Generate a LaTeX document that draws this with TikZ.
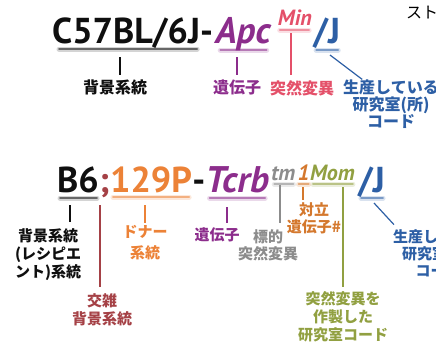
\documentclass[tikz,border=0pt]{standalone}
\usepackage{fontspec}
\setmainfont{PT Sans}
\newfontfamily\jp{Noto Sans CJK JP}
\definecolor{bg_c}{RGB}{15,15,15}
\definecolor{gene_c}{RGB}{140,45,140}
\definecolor{mut_c}{RGB}{228,80,105}
\definecolor{lab_c}{RGB}{45,95,165}
\definecolor{donor_c}{RGB}{236,130,55}
\definecolor{cross_c}{RGB}{165,65,70}
\definecolor{tm_c}{RGB}{140,140,140}
\definecolor{allele_c}{RGB}{212,120,45}
\definecolor{mom_c}{RGB}{145,160,65}
\usetikzlibrary{positioning,calc}

\begin{document}
\begin{tikzpicture}[
			x=1pt, y=-1pt,
			sym/.style = {inner sep=0, anchor=base west, font=\fontsize{36}{36}\selectfont\bfseries},
			symit/.style = {sym, font=\fontsize{37}{37}\selectfont\bfseries\itshape},
			sup/.style = {inner sep=0, anchor=base west, font=\fontsize{22}{22}\selectfont\bfseries\itshape},
			lbl/.style = {inner sep=0, anchor=north, align=center, font=\jp\fontsize{15}{18}\selectfont\bfseries},
			bar/.style = {draw=#1, line width=5pt, line cap=round, opacity=.18,
				postaction={draw=#1, line width=1.6pt, opacity=.55}},
			lk/.style = {line width=1.2pt},
			]
			\useasboundingbox (0,0) rectangle (436,343);
			\clip (0,0) rectangle (436,343);
			% first strain name
			\node[sym, text=bg_c] (strain1) at (52,43) {C57BL/6J-};
			\node[symit, text=gene_c] (gene1) at ([xshift=2]strain1.base east) {Apc};
			\node[sup, text=mut_c] (mut1) at ([shift={(7,-18)}]gene1.base east) {Min};
			\node[sym, text=lab_c] (lab1) at ([xshift=1]mut1.base east |- gene1.base) {/J};
			% shadows
			\draw[bar=bg_c] ([shift={(7,6)}]strain1.base west) -- ([shift={(-16,6)}]strain1.base east);
			\draw[bar=gene_c] ([shift={(5,7)}]gene1.base west) -- ([shift={(-4,7)}]gene1.base east);
			\draw[bar=mut_c] ([shift={(2,5)}]mut1.base west) -- ([shift={(-3,5)}]mut1.base east);
			\draw[bar=lab_c] ([shift={(3,7)}]lab1.base west) -- ([shift={(-2,7)}]lab1.base east);
			% notes
			\node[lbl, text=bg_c, font=\jp\fontsize{16}{17}\selectfont\bfseries] (bglbl1) at (115,80) {背景系統};
			\node[lbl, text=gene_c, font=\jp\fontsize{16}{17}\selectfont\bfseries] (genelbl1) at (237,80) {遺伝子};
			\node[lbl, text=mut_c, font=\jp\fontsize{16}{17}\selectfont\bfseries] (mutlbl1) at (302,80) {突然変異};
			\node[lbl, text=lab_c, font=\jp\fontsize{16}{17}\selectfont\bfseries] (lablbl1) at (391,80) {生産している\\研究室(所)\\コード};
			\node[inner sep=0, anchor=west, font=\jp\fontsize{16}{16}\selectfont] (cut) at (406,13) {スト};
			\coordinate (bgpt1) at (120,57);
			\coordinate (genept1) at (237,57);
			\coordinate (mutpt1) at (291,33);
			\coordinate (labpt1) at (330,55);
			% edges
			\draw[lk, bg_c, shorten >=5] (bgpt1) -- (bgpt1 |- bglbl1.north);
			\draw[lk, gene_c, shorten >=5] (genept1) -- (genelbl1.north);
			\draw[lk, mut_c, shorten >=5] (mutpt1) -- (mutpt1 |- mutlbl1.north);
			\draw[lk, lab_c, shorten >=1] (labpt1) -- ([xshift=-28]lablbl1.north);

			% second strain name
			\node[sym, text=bg_c] (strain2) at (57,192) {B6};
			\node[sym, text=cross_c] (cross2) at (strain2.base east) {;};
			\node[sym, text=donor_c] (donor2) at (cross2.base east) {129P};
			\node[sym, text=bg_c] (dash2) at (donor2.base east) {-};
			\node[symit, text=gene_c] (gene2) at (dash2.base east) {Tcrb};
			\node[sup, text=tm_c] (tm2) at ([shift={(2,-12)}]gene2.base east) {tm};
			\node[sup, text=allele_c] (allele2) at ([xshift=2]tm2.base east) {1};
			\node[sup, text=mom_c] (mom2) at (allele2.base east) {Mom};
			\node[sym, text=lab_c] (lab2) at ([xshift=3]mom2.base east |- gene2.base) {/J};
			% shadows
			\draw[bar=bg_c] ([shift={(3,6)}]strain2.base west) -- ([shift={(-2,6)}]strain2.base east);
			\draw[bar=donor_c] ([shift={(3,5)}]donor2.base west) -- ([shift={(-3,5)}]donor2.base east);
			\draw[bar=gene_c] ([shift={(4,6)}]gene2.base west) -- ([shift={(-4,6)}]gene2.base east);
			\draw[bar=tm_c] ([shift={(3,4)}]tm2.base west) -- ([shift={(-2,4)}]tm2.base east);
			\draw[bar=allele_c] ([shift={(1,4)}]allele2.base west) -- ([shift={(-1,4)}]allele2.base east);
			\draw[bar=mom_c] ([shift={(3,4)}]mom2.base west) -- ([shift={(-2,4)}]mom2.base east);
			\draw[bar=lab_c] ([shift={(3,6)}]lab2.base west) -- ([shift={(-2,6)}]lab2.base east);
			% notes
			\node[lbl, text=bg_c] (bglbl2) at (48,228) {背景系統\\(レシピエ\\ント)系統};
			\node[lbl, text=cross_c] (crosslbl) at (102,293) {交雑\\背景系統};
			\node[lbl, text=donor_c, font=\jp\fontsize{15}{21}\selectfont\bfseries] (donorlbl) at (145,225) {ドナー\\系統};
			\node[lbl, text=gene_c] (genelbl2) at (217,227) {遺伝子};
			\node[lbl, text=tm_c, font=\jp\fontsize{15}{17}\selectfont\bfseries] (tmlbl) at (268,229) {標的\\突然変異};
			\node[lbl, text=allele_c, font=\jp\fontsize{15}{17}\selectfont\bfseries] (allelelbl) at (314,202) {対立\\遺伝子\#};
			\node[lbl, text=mom_c] (momlbl) at (343,291) {突然変異を\\作製した\\研究室コード};
			\node[lbl, text=lab_c, font=\jp\fontsize{15}{17}\selectfont\bfseries] (lablbl2) at (438,229) {生産している\\研究室(所)\\コード};
			\coordinate (bgpt2) at (70,205);
			\coordinate (crosspt) at (100,205);
			\coordinate (donorpt) at (145,205);
			\coordinate (genept2) at (227,207);
			\coordinate (tmpt) at (280,185);
			\coordinate (allelept) at (303,187);
			\coordinate (mompt) at (343,187);
			\coordinate (labpt2) at (374,203);
			% edges
			\draw[lk, bg_c, shorten >=6] (bgpt2) -- (bgpt2 |- bglbl2.north);
			\draw[lk, cross_c, shorten >=6] (crosspt) -- (crosspt |- crosslbl.north);
			\draw[lk, donor_c, shorten >=2] (donorpt) -- (donorlbl.north);
			\draw[lk, gene_c, shorten >=4] (genept2) -- (genept2 |- genelbl2.north);
			\draw[lk, tm_c, shorten >=6] (tmpt) -- (tmpt |- tmlbl.north);
			\draw[lk, allele_c, shorten >=2] (allelept) -- (allelept |- allelelbl.north);
			\draw[lk, mom_c, shorten >=4] (mompt) -- (momlbl.north);
			\draw[lk, lab_c, shorten >=6] (labpt2) -- ([xshift=-40]lablbl2.north);
		\end{tikzpicture}
\end{document}
